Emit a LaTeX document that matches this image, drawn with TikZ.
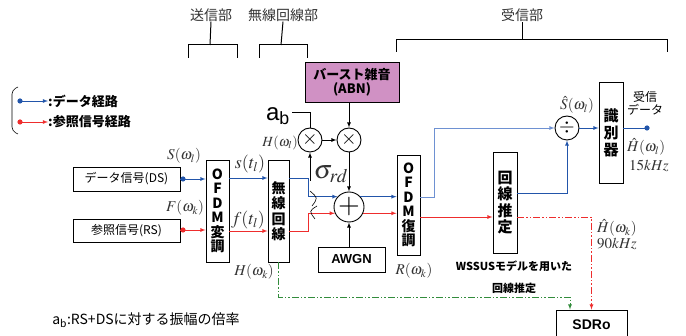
\documentclass[tikz,border=0pt]{standalone}
\usepackage{amsmath}
\usepackage{mathptmx}
\usepackage{fontspec}
\setmainfont{Liberation Sans}
\newfontfamily\jp{Noto Sans CJK JP}
\usepackage{tikz}
\definecolor{dblue}{RGB}{34,85,170}
\definecolor{lblue}{RGB}{110,145,210}
\definecolor{rred}{RGB}{238,45,45}
\definecolor{ggreen}{RGB}{50,140,60}
\definecolor{abnfill}{RGB}{208,145,196}

\begin{document}
\begin{tikzpicture}[x=1pt, y=-1pt]
    \tikzstyle{blk} = [draw, line width=0.9pt, inner sep=0pt, font=\jp\fontsize{12}{14}\selectfont]
    \tikzstyle{vbox} = [blk, align=center, font=\jp\bfseries\fontsize{14}{14.5}\selectfont]
    \tikzstyle{opc} = [circle, draw, line width=0.9pt, minimum size=24pt, inner sep=0pt]
    \tikzstyle{dpath} = [dblue, line width=0.8pt, -latex]
    \tikzstyle{rpath} = [rred, line width=0.8pt, -latex]
    \tikzstyle{ddot} = [line width=0.8pt, dash pattern=on 7pt off 2pt on 1.5pt off 2pt on 1.5pt off 2pt, -latex]
    \tikzstyle{lbl} = [inner sep=0pt, text=black!80, font=\fontsize{15}{17}\selectfont]
    \tikzstyle{part} = [inner sep=0pt, text=black!80, font=\jp\fontsize{14}{16}\selectfont]
    \useasboundingbox (0,0) rectangle (686,336);

    % parts
    \node[part] (tx) at (211,15) {送信部};
    \node[part] (ch) at (283,15) {無線回線部};
    \node[part] (rx) at (522,15) {受信部};
    \draw[line width=1pt] (188,58) |- (237,45) -- (237,58);
    \draw[line width=1pt] (210,45) -- (tx.south);
    \draw[line width=1pt] (259,58) |- (307,45) -- (307,58);
    \draw[line width=1pt] (281,45) -- (ch.south);
    \draw[line width=1pt] (396,52) |- (667,40) -- (667,52);
    \draw[line width=1pt] (522,40) -- (rx.south);

    % legend
    \draw[line width=0.6pt, rounded corners=4pt] (18,87) -- (12,90) -- (12,131) -- (18,134);
    \coordinate (lgd) at (20,101);
    \coordinate (lgr) at (20,122);
    \fill[dblue] (lgd) circle (2.6);
    \fill[rred] (lgr) circle (2.6);
    \node[anchor=west, inner sep=0pt, font=\jp\bfseries\fontsize{13}{15}\selectfont] (lgdt) at (48,101) {:データ経路};
    \node[anchor=west, inner sep=0pt, font=\jp\bfseries\fontsize{13}{15}\selectfont] (lgrt) at (48,122) {:参照信号経路};
    \draw[dpath] (lgd) -- (lgdt.west);
    \draw[rpath] (lgr) -- (lgrt.west);

    % blocks
    \node[blk, minimum width=107pt, minimum height=24pt] (ds) at (126.5,179) {データ信号(DS)};
    \node[blk, minimum width=107pt, minimum height=23pt] (rs) at (126.5,230.5) {参照信号(RS)};
    \node[vbox, minimum width=23pt, minimum height=102pt] (ofdmmod) at (217.5,211) {O\\F\\D\\M\\変\\調};
    \node[vbox, minimum width=21pt, minimum height=102pt, font=\jp\bfseries\fontsize{14}{15.5}\selectfont] (wch) at (278.5,211) {無\\線\\回\\線};
    \node[vbox, minimum width=23pt, minimum height=100pt] (demod) at (408.5,205) {O\\F\\D\\M\\復\\調};
    \node[vbox, minimum width=24pt, minimum height=101pt, font=\jp\bfseries\fontsize{15}{16.5}\selectfont] (est) at (505,202.5) {回\\線\\推\\定};
    \node[vbox, minimum width=24pt, minimum height=101pt, font=\jp\bfseries\fontsize{15}{17}\selectfont] (det) at (611,132.5) {識\\別\\器};
    \node[blk, fill=abnfill, align=center, minimum width=94pt, minimum height=40pt,
          font=\jp\bfseries\fontsize{13}{14}\selectfont] (abn) at (352,82) {バースト雑音\\(ABN)};
    \node[blk, minimum width=67pt, minimum height=25pt, font=\bfseries\fontsize{13}{15}\selectfont] (awgn) at (351.5,259.5) {AWGN};
    \node[blk, minimum width=71pt, minimum height=30pt, font=\bfseries\fontsize{14}{16}\selectfont] (sdro) at (591.5,325) {SDRo};

    % operators
    \node[opc] (mul1) at (310,140) {\fontsize{20}{20}\selectfont$\times$};
    \node[opc] (mul2) at (349,140) {\fontsize{20}{20}\selectfont$\times$};
    \node[opc, minimum size=30pt] (sum) at (349,207) {\fontsize{28}{28}\selectfont$+$};
    \node[opc] (div) at (567,128) {\fontsize{20}{20}\selectfont$\div$};

    % transmitter
    \coordinate (dsdot) at (183,179);
    \coordinate (rsdot) at (183,230);
    \fill[dblue] (dsdot) circle (2.6);
    \fill[rred] (rsdot) circle (2.6);
    \draw[dblue, line width=0.8pt] (ds.east |- dsdot) -- (dsdot);
    \draw[rred, line width=0.8pt] (rs.east |- rsdot) -- (rsdot);
    \draw[dpath] (dsdot) -- (ofdmmod.west |- dsdot);
    \draw[rpath] (rsdot) -- (ofdmmod.west |- rsdot);
    \draw[dpath] (ofdmmod.east |- 0,178) -- (wch.west |- 0,178);
    \draw[rpath] (ofdmmod.east |- 0,231) -- (wch.west |- 0,231);

    % channel
    \draw[dpath] (wch.east |- 0,178) -- (308,178) |- (sum.138);
    \draw[rpath] (wch.east |- 0,231) -- (308,231) |- (sum.204);
    \coordinate (sig) at (310,181);
    \draw[line width=0.8pt, -latex] (sig) -- (mul1.south);
    \draw[line width=0.6pt] (310,191) .. controls (318,198) .. (312,206);
    \draw[line width=0.6pt] (317,206) .. controls (309,211) .. (315,219);
    \coordinate (abk) at (292,112);
    \draw[line width=0.8pt] (abk) -| (mul1.north);
    \draw[line width=0.8pt, -latex] (mul1) -- (mul2);
    \draw[line width=0.8pt, -latex] (abn.south -| mul2) -- (mul2);
    \draw[line width=0.8pt, -latex] (mul2) -- (sum);
    \draw[line width=0.8pt, -latex] (awgn.north -| sum) -- (sum);

    % receiver
    \draw[dpath] (sum.42) -- (demod.west |- sum.42);
    \draw[rpath] (sum.-24) -- (demod.west |- sum.-24);
    \draw[lblue, line width=0.8pt, -latex] (demod.east |- 0,197) -- (434,197) |- (div.west);
    \draw[rpath] (demod.east |- 0,217) -- (est.west |- 0,217);
    \draw[dpath] (est.east |- 0,193) -| (div.south);
    \draw[dpath] (div.east) -- (det.west |- div);
    \coordinate (out) at (647,128);
    \draw[dblue, line width=0.8pt] (det.east |- div) -- (out);
    \fill[dblue] (out) circle (2.6);
    \draw[ddot, rred] (est.east |- 0,217) -| (sdro.north);
    \draw[ddot, ggreen] (wch.south) |- (570,297) -- (sdro.north -| 570,0);

    % labels
    \node[inner sep=0pt, font=\fontsize{24}{24}\selectfont] (ab) at (278,116) {a$_{\text{b}}$};
    \node[lbl, anchor=east, font=\fontsize{14}{16}\selectfont] (hl) at (298,143) {$H(\omega_l)$};
    \node[lbl] (sl) at (184,156) {$S(\omega_l)$};
    \node[lbl] (fk) at (185,208) {$F(\omega_k)$};
    \node[lbl, font=\fontsize{18}{20}\selectfont] (st) at (250,164) {$s(t_l)$};
    \node[lbl, font=\fontsize{18}{20}\selectfont] (ft) at (248,220) {$f(t_l)$};
    \node[lbl] (hk) at (254,272) {$H(\omega_k)$};
    \node[lbl, font=\fontsize{26}{26}\selectfont] (srd) at (331,174) {$\sigma_{rd}$};
    \node[lbl] (rk) at (414,271) {$R(\omega_k)$};
    \node[lbl] (shat) at (577,105) {$\hat{S}(\omega_l)$};
    \node[inner sep=0pt, align=center, font=\jp\fontsize{12}{13}\selectfont] (rdat) at (645,103) {受信\\データ};
    \node[lbl, anchor=west] (hhl) at (627,147) {$\hat{H}(\omega_l)$};
    \node[lbl, anchor=west] (f15) at (629,166) {$15kHz$};
    \node[lbl, anchor=west] (hhk) at (597,228) {$\hat{H}(\omega_k)$};
    \node[lbl, anchor=west] (f90) at (597,244) {$90kHz$};
    \node[inner sep=0pt, font=\jp\bfseries\fontsize{11}{13}\selectfont] (ws1) at (514,266) {WSSUSモデルを用いた};
    \node[inner sep=0pt, font=\jp\bfseries\fontsize{11}{13}\selectfont] (ws2) at (514,288) {回線推定};
    \node[inner sep=0pt, font=\jp\fontsize{14}{16}\selectfont] (note) at (146,320) {a$_{\text{b}}$:RS+DSに対する振幅の倍率};
\end{tikzpicture}
\end{document}
